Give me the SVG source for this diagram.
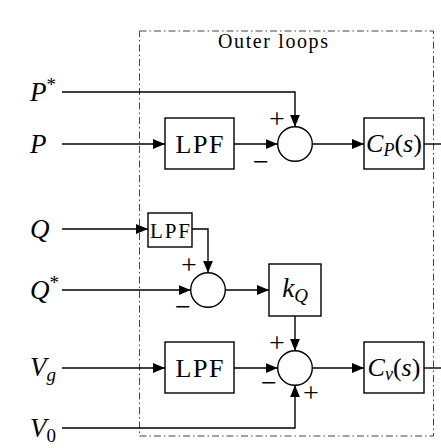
<svg xmlns="http://www.w3.org/2000/svg" width="441" height="448" viewBox="0 0 441 448">
<style>
.ln{fill:none;stroke:#000;stroke-width:1.4}
.bx{fill:#fff;stroke:#000;stroke-width:1.4}
.t{font-family:"Liberation Serif","Times New Roman",serif;fill:#000}
.i{font-style:italic}
.lbl{font-size:27px}
.sg{font-size:28px;text-anchor:middle}
.frame{fill:none;stroke:#444;stroke-width:1;stroke-dasharray:7 3 1.5 3}
</style>
<defs>
<marker id="ah" viewBox="0 0 12 10" refX="12" refY="5" markerWidth="12" markerHeight="10" markerUnits="userSpaceOnUse" orient="auto">
<path d="M0,0 L12,5 L0,10 Z" fill="#000"/>
</marker>
</defs>
<rect fill="#fff" width="441" height="448"/>
<g id="frame">
<rect class="frame" x="139.5" y="31" width="294" height="405"/>
<text class="t" x="273" y="48" font-size="20" text-anchor="middle" textLength="110">Outer loops</text>
</g>
<g id="connectors">
<path class="ln" d="M62,92 H295 V126.7" marker-end="url(#ah)"/>
<path class="ln" d="M62,144 H165" marker-end="url(#ah)"/>
<path class="ln" d="M234,144 H277.7" marker-end="url(#ah)"/>
<path class="ln" d="M312.3,144 H364" marker-end="url(#ah)"/>
<path class="ln" d="M424,144 H441"/>
<path class="ln" d="M62,229 H148" marker-end="url(#ah)"/>
<path class="ln" d="M192,229 H208 V272.7" marker-end="url(#ah)"/>
<path class="ln" d="M62,290 H190.7" marker-end="url(#ah)"/>
<path class="ln" d="M225.3,290 H269" marker-end="url(#ah)"/>
<path class="ln" d="M295,316 V350.7" marker-end="url(#ah)"/>
<path class="ln" d="M62,368 H165" marker-end="url(#ah)"/>
<path class="ln" d="M234,368 H277.7" marker-end="url(#ah)"/>
<path class="ln" d="M312.3,368 H364" marker-end="url(#ah)"/>
<path class="ln" d="M424,368 H441"/>
<path class="ln" d="M62,428 H295 V385.3" marker-end="url(#ah)"/>
</g>
<g id="inputs">
<text class="t lbl" x="30" y="101"><tspan class="i">P</tspan><tspan font-size="19" dy="-10">*</tspan></text>
<text class="t lbl i" x="30" y="153">P</text>
<text class="t lbl i" x="30" y="238">Q</text>
<text class="t lbl" x="30" y="299"><tspan class="i">Q</tspan><tspan font-size="19" dy="-10">*</tspan></text>
<text class="t lbl" x="30" y="376"><tspan class="i">V</tspan><tspan class="i" font-size="19" dy="5">g</tspan></text>
<text class="t lbl" x="30" y="437"><tspan class="i">V</tspan><tspan font-size="19" dy="5">0</tspan></text>
</g>
<g id="lpf-p">
<rect class="bx" x="165" y="118" width="69" height="51"/>
<text class="t" x="199.5" y="153" font-size="26" text-anchor="middle" textLength="48">LPF</text>
</g>
<g id="sum-p">
<circle class="bx" cx="295" cy="144" r="17.3"/>
<text class="t sg" x="277" y="128">+</text>
<text class="t sg" x="261" y="171">−</text>
</g>
<g id="cp">
<rect class="bx" x="364" y="118" width="60" height="51"/>
<text class="t" x="394" y="152" font-size="26" text-anchor="middle"><tspan class="i">C</tspan><tspan class="i" font-size="18" dy="4">P</tspan><tspan dy="-4">(</tspan><tspan class="i">s</tspan>)</text>
</g>
<g id="lpf-q">
<rect class="bx" x="148" y="213" width="44" height="34"/>
<text class="t" x="170" y="238" font-size="21" text-anchor="middle" textLength="40">LPF</text>
</g>
<g id="sum-q">
<circle class="bx" cx="208" cy="290" r="17.3"/>
<text class="t sg" x="189" y="274">+</text>
<text class="t sg" x="183" y="316">−</text>
</g>
<g id="kq">
<rect class="bx" x="269" y="264" width="52" height="52"/>
<text class="t" x="295" y="297" font-size="27" text-anchor="middle"><tspan class="i">k</tspan><tspan class="i" font-size="19" dy="5">Q</tspan></text>
</g>
<g id="lpf-v">
<rect class="bx" x="165" y="342" width="69" height="51"/>
<text class="t" x="199.5" y="377" font-size="26" text-anchor="middle" textLength="48">LPF</text>
</g>
<g id="sum-v">
<circle class="bx" cx="295" cy="368" r="17.3"/>
<text class="t sg" x="277" y="352">+</text>
<text class="t sg" x="269" y="392">−</text>
<text class="t sg" x="311" y="402">+</text>
</g>
<g id="cv">
<rect class="bx" x="364" y="342" width="60" height="51"/>
<text class="t" x="394" y="376" font-size="26" text-anchor="middle"><tspan class="i">C</tspan><tspan class="i" font-size="18" dy="4">v</tspan><tspan dy="-4">(</tspan><tspan class="i">s</tspan>)</text>
</g>
</svg>
